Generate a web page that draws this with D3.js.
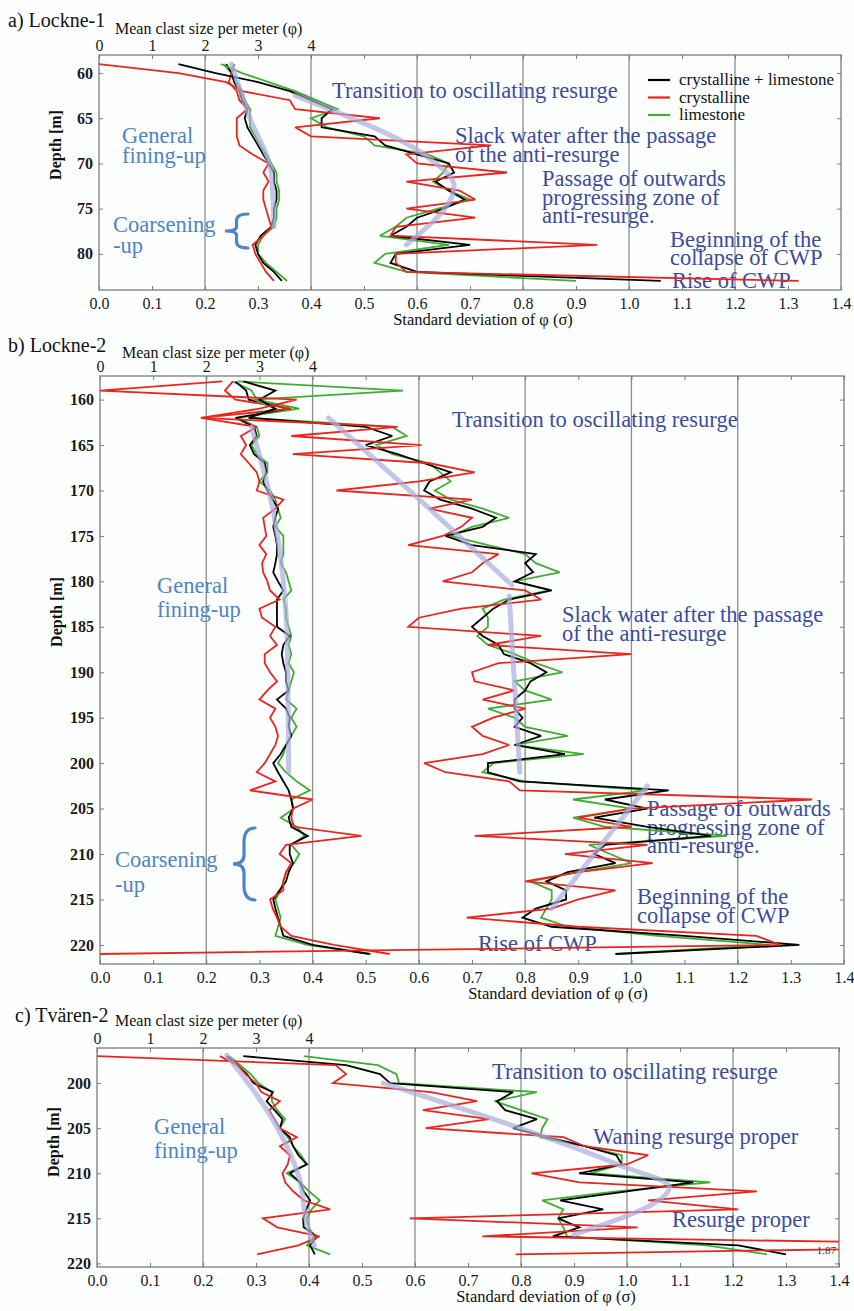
<!DOCTYPE html>
<html><head><meta charset="utf-8">
<script src="https://cdn.jsdelivr.net/npm/d3@7"></script>
<style>body{margin:0;background:#fff;}svg{display:block;}</style>
</head><body>
<svg id="chart" width="854" height="1311"></svg>
<script>
// ---------- Panel a) Lockne-1 ----------
const aDepth   = [59,60,61,62,63,64,65,66,67,68,69,70,71,72,73,74,75,76,77,78,79,80,81,82,83];
const aMeanAll = [2.4,2.5,2.55,2.65,2.7,2.8,2.75,2.8,2.9,3.0,3.1,3.2,3.3,3.3,3.35,3.35,3.3,3.3,3.25,3.05,2.95,3.0,3.1,3.3,3.45];
const aMeanCry = [2.55,2.5,2.45,2.6,2.65,2.8,2.6,2.6,2.6,2.65,2.9,3.2,3.1,3.2,3.1,3.1,3.15,3.2,3.25,3.1,2.9,2.95,3.05,3.15,3.3];
const aMeanLim = [2.35,2.5,2.6,2.7,2.75,2.85,2.85,2.85,2.95,3.05,3.15,3.25,3.35,3.35,3.4,3.4,3.35,3.35,3.3,3.1,3.0,3.0,3.15,3.35,3.55];
const aSdAll   = [0.15,0.22,0.30,0.36,0.40,0.44,0.42,0.42,0.52,0.54,0.60,0.66,0.67,0.635,0.66,0.69,0.65,0.60,0.58,0.55,0.70,0.56,0.55,0.60,1.06];
const aSdCry   = [0.0,0.15,0.24,0.27,0.36,0.37,0.53,0.37,0.40,0.74,0.58,0.60,0.77,0.58,0.68,0.71,0.58,0.71,0.56,0.55,0.94,0.56,0.56,0.58,1.32];
const aSdLim   = [0.23,0.27,0.32,0.37,0.41,0.45,0.40,0.43,0.50,0.52,0.62,0.66,0.65,0.63,0.66,0.70,0.64,0.58,0.56,0.53,0.66,0.54,0.52,0.58,0.90];
const aTrendMeanPhi = [2.5,2.85,3.25,3.3];
const aTrendMeanDepth = [59,65,71,77];
const aTrendSdVal = [0.37,0.62,0.67,0.58];
const aTrendSdDepth = [62.5,69.3,72.5,79];

// ---------- Panel b) Lockne-2 ----------
const bDepth   = [158,159,160,161,162,163,164,165,166,167,168,169,170,171,172,173,174,175,176,177,178,179,180,181,182,183,184,185,186,187,188,189,190,191,192,193,194,195,196,197,198,199,200,201,202,203,204,205,206,207,208,209,210,211,212,213,214,215,216,217,218,219,220,221];
const bMeanAll = [2.55,2.75,2.8,3.55,2.55,2.9,2.95,2.82,2.9,3.1,3.13,3.07,3.15,3.25,3.35,3.3,3.26,3.3,3.33,3.33,3.3,3.26,3.35,3.45,3.33,3.33,3.33,3.33,3.57,3.45,3.42,3.45,3.5,3.5,3.55,3.33,3.5,3.57,3.55,3.6,3.5,3.4,3.26,3.35,3.45,3.55,3.6,3.63,3.55,3.6,3.91,3.57,3.57,3.63,3.55,3.5,3.38,3.26,3.3,3.35,3.4,3.45,4.0,5.07];
const bMeanCry = [2.5,2.35,2.55,3.6,1.9,2.95,2.65,2.75,2.65,2.8,2.95,3.0,2.95,3.45,3.3,3.07,3.1,3.13,3.0,3.13,3.05,3.07,3.15,3.2,3.38,3.0,3.05,3.3,3.2,3.33,3.1,3.1,3.2,3.33,3.15,3.0,3.3,3.2,3.3,3.35,3.3,3.2,3.1,2.95,3.3,2.82,4.0,3.63,3.6,3.65,4.92,3.5,3.38,3.6,3.5,3.45,3.45,3.2,3.25,3.33,3.4,3.6,4.4,5.45];
const bMeanLim = [2.5,2.85,2.95,3.75,2.6,2.95,3.0,2.85,2.95,3.15,3.15,3.0,3.2,3.3,3.35,3.4,3.3,3.45,3.45,3.45,3.4,3.5,3.55,3.6,3.45,3.5,3.5,3.55,3.6,3.55,3.6,3.55,3.65,3.6,3.55,3.5,3.7,3.6,3.7,3.6,3.5,3.45,3.35,3.5,3.7,3.95,3.6,3.65,3.4,3.7,3.85,3.6,3.75,3.65,3.5,3.45,3.4,3.3,3.35,3.4,3.35,3.3,3.9,5.1];
const bSdAll   = [0.27,0.33,0.30,0.33,0.28,0.50,0.55,0.50,0.56,0.61,0.66,0.62,0.61,0.64,0.70,0.745,0.72,0.65,0.70,0.82,0.80,0.815,0.78,0.85,0.77,0.74,0.72,0.70,0.72,0.75,0.76,0.81,0.84,0.81,0.80,0.78,0.78,0.795,0.78,0.83,0.78,0.875,0.73,0.73,0.79,1.07,0.95,1.03,0.93,1.03,1.15,0.95,0.93,0.97,0.88,0.84,0.877,0.877,0.82,0.795,0.85,1.1,1.316,0.97];
const bSdCry   = [0.23,0.0,0.37,0.30,0.19,0.56,0.36,0.605,0.363,0.62,0.705,0.60,0.445,0.70,0.62,0.70,0.68,0.645,0.58,0.75,0.72,0.70,0.645,0.80,0.83,0.68,0.60,0.58,0.83,0.73,1.0,0.75,0.70,0.705,0.78,0.72,0.80,0.74,0.70,0.72,0.77,0.72,0.61,0.65,0.77,0.79,1.34,1.0,0.90,1.0,0.705,1.03,0.875,1.04,0.90,0.80,0.97,0.90,0.85,0.69,0.90,1.235,1.28,0.0];
const bSdLim   = [0.26,0.57,0.29,0.33,0.28,0.55,0.577,0.52,0.55,0.62,0.64,0.66,0.63,0.66,0.72,0.77,0.70,0.66,0.73,0.80,0.82,0.865,0.78,0.846,0.76,0.72,0.73,0.73,0.71,0.73,0.78,0.82,0.87,0.78,0.80,0.85,0.73,0.78,0.80,0.88,0.78,0.91,0.74,0.72,0.80,1.03,0.89,1.0,0.89,0.95,1.18,0.92,0.96,1.0,0.90,0.81,0.85,0.85,0.84,0.83,0.88,1.05,1.26,0.97];
const bTrendMeanPhi = [2.85,3.25,3.45,3.52,3.55];
const bTrendMeanDepth = [163,172,180,186,201];
const bTrendSd1Val = [0.43,0.62,0.775];
const bTrendSd1Depth = [162,172,180.4];
const bTrendSd2Val = [0.77,0.79];
const bTrendSd2Depth = [181.6,201];
const bTrendSd3Val = [1.03,0.85];
const bTrendSd3Depth = [202.5,216];

// ---------- Panel c) Tvären-2 ----------
const cDepth   = [197,198,199,200,201,202,203,204,205,206,207,208,209,210,211,212,213,214,215,216,217,218,219];
const cMeanAll = [2.45,2.65,2.83,2.95,3.32,3.2,3.35,3.5,3.45,3.64,3.7,3.8,3.96,3.64,3.83,3.9,4.02,3.95,3.89,3.9,4.15,4.02,4.11];
const cMeanCry = [2.32,2.65,2.8,3.0,3.1,3.45,3.25,3.35,3.45,3.77,3.45,3.64,3.6,3.5,3.55,3.7,3.9,4.4,3.13,3.4,4.2,3.8,3.02];
const cMeanLim = [2.5,2.7,2.9,3.05,3.3,3.3,3.4,3.55,3.45,3.6,3.7,3.85,3.96,3.58,3.83,4.0,4.2,4.05,3.96,4.0,4.1,3.96,4.4];
const cSdAll   = [0.276,0.47,0.534,0.553,0.785,0.755,0.77,0.83,0.785,0.85,0.92,0.98,0.99,0.91,1.125,1.0,0.874,0.955,0.87,0.91,0.86,1.21,1.30];
const cSdCry   = [0.0,0.45,0.47,0.445,0.63,0.717,0.615,0.74,0.62,0.88,0.92,1.04,1.0,0.82,0.91,1.245,1.04,1.21,0.59,1.02,0.727,1.87,0.79];
const cSdLim   = [0.39,0.53,0.565,0.57,0.83,0.75,0.80,0.85,0.84,0.836,0.92,0.99,0.99,0.93,1.157,0.98,0.84,0.88,0.87,0.88,0.887,1.15,1.264];
const cTrendMeanPhi = [2.45,3.4,3.83,3.96,4.1];
const cTrendMeanDepth = [196.9,204.9,210.8,215.6,218];
const cTrendSdVal = [0.54,0.99,1.08,0.90];
const cTrendSdDepth = [200,209.2,211.5,216.8];

// ---------- shared axis labels ----------
const sdTicks = [0,0.1,0.2,0.3,0.4,0.5,0.6,0.7,0.8,0.9,1.0,1.1,1.2,1.3,1.4];
const gridVals = [0.2,0.4,0.6,0.8,1.0,1.2];
const meanTicks = [0,1,2,3,4];
const seriesNames = ["crystalline + limestone","crystalline","limestone"];

const SERIF = "'Liberation Serif','Times New Roman',Times,serif";
const COLORS = {all:"#000000", cry:"#e8251f", lim:"#40ad32", trend:"#a9acdb"};
const BLUE_DARK = "#3c4b9e", BLUE_LIGHT = "#4d85c6";

const svg = d3.select("#chart");
svg.append("rect").attr("width",854).attr("height",1311).attr("fill","#fdfefe");

function zip(vals, depths){ return vals.map((v,i)=>[v,depths[i]]); }

function brace(g, x, y1, y2, w){
  const ym=(y1+y2)/2, h=y2-y1, xm=x-w*0.5;
  const p=`M${x},${y1} Q${xm},${y1} ${xm},${y1+h*0.2} L${xm},${ym-h*0.12} Q${xm},${ym} ${x-w},${ym} Q${xm},${ym} ${xm},${ym+h*0.12} L${xm},${y2-h*0.2} Q${xm},${y2} ${x},${y2}`;
  g.append("path").attr("d",p).attr("fill","none").attr("stroke",BLUE_LIGHT).attr("stroke-width",3.2).attr("stroke-linecap","round");
}

function drawPanel(p){
  const g = svg.append("g");
  const x = d3.scaleLinear().domain([0,1.4]).range([p.left,p.right]);
  const xm = d3.scaleLinear().domain([0,14]).range([p.left,p.right]);
  const y = d3.scaleLinear().domain(p.domain).range([p.top,p.bottom]);

  svg.append("clipPath").attr("id","clip"+p.id).append("rect")
    .attr("x",p.left).attr("y",p.top).attr("width",p.right-p.left).attr("height",p.bottom-p.top);

  g.selectAll(".grid").data(gridVals).join("line")
    .attr("x1",d=>x(d)).attr("x2",d=>x(d)).attr("y1",p.top).attr("y2",p.bottom)
    .attr("stroke","#8c8c8c").attr("stroke-width",1.3);
  g.append("rect").attr("x",p.left).attr("y",p.top).attr("width",p.right-p.left).attr("height",p.bottom-p.top)
    .attr("fill","none").attr("stroke","#7a7a7a").attr("stroke-width",1.3);

  const bx = g.append("g").attr("transform",`translate(0,${p.bottom})`)
    .call(d3.axisBottom(x).tickValues(sdTicks).tickFormat(d3.format(".1f")).tickSizeInner(-4).tickSizeOuter(0).tickPadding(8));
  bx.select(".domain").remove();
  bx.selectAll("line").attr("stroke","#7a7a7a");
  bx.selectAll("text").attr("font-family",SERIF).attr("font-size",16).attr("fill","#1a1a1a");
  const tx = g.append("g").attr("transform",`translate(0,${p.top})`)
    .call(d3.axisTop(x).tickValues(sdTicks).tickFormat("").tickSizeInner(-4).tickSizeOuter(0));
  tx.select(".domain").remove(); tx.selectAll("line").attr("stroke","#7a7a7a");
  const tm = g.append("g").attr("transform",`translate(0,${p.top})`)
    .call(d3.axisTop(xm).tickValues(meanTicks).tickFormat(d3.format("d")).tickSize(0).tickPadding(4));
  tm.select(".domain").remove();
  tm.selectAll("text").attr("font-family",SERIF).attr("font-size",16).attr("fill","#1a1a1a");
  const ly = g.append("g").attr("transform",`translate(${p.left},0)`)
    .call(d3.axisLeft(y).tickValues(p.yTicks).tickFormat(d3.format("d")).tickSizeInner(-4).tickSizeOuter(0).tickPadding(6));
  ly.select(".domain").remove(); ly.selectAll("line").attr("stroke","#7a7a7a");
  ly.selectAll("text").attr("font-family",SERIF).attr("font-size",16).attr("font-weight","bold").attr("fill","#1a1a1a");
  const ry = g.append("g").attr("transform",`translate(${p.right},0)`)
    .call(d3.axisRight(y).tickValues(p.yTicks).tickFormat("").tickSizeInner(-4).tickSizeOuter(0));
  ry.select(".domain").remove(); ry.selectAll("line").attr("stroke","#7a7a7a");

  g.append("text").attr("x",p.titleX).attr("y",p.titleY).text(p.title)
    .attr("font-family",SERIF).attr("font-size",20).attr("fill","#111");
  g.append("text").attr("x",p.meanLabelX).attr("y",p.meanLabelY).text("Mean clast size per meter (φ)")
    .attr("font-family",SERIF).attr("font-size",16).attr("fill","#111");
  g.append("text").attr("x",p.sdLabelX).attr("y",p.bottom+35).attr("text-anchor","middle").text("Standard deviation of φ (σ)")
    .attr("font-family",SERIF).attr("font-size",16.5).attr("fill","#111");
  g.append("text").attr("transform",`translate(${p.left-38},${p.depthLabelY}) rotate(-90)`).attr("text-anchor","middle")
    .text("Depth [m]").attr("font-family",SERIF).attr("font-size",16).attr("font-weight","bold").attr("fill","#111");

  p.notes.forEach(n=>{
    const t = g.append("text").attr("x",n.x).attr("y",n.y).attr("font-family",SERIF).attr("font-size",n.size||22.5)
      .attr("fill",n.color||BLUE_DARK);
    n.lines.forEach((l,i)=>t.append("tspan").attr("x",n.x).attr("dy",i===0?0:(n.lh||19)).text(l));
  });
  if(p.brace) brace(g,p.brace[0],p.brace[1],p.brace[2],p.brace[3]);

  const lg = g.append("g").attr("clip-path",`url(#clip${p.id})`);
  const lineSd = d3.line().x(d=>x(d[0])).y(d=>y(d[1]));
  const lineMean = d3.line().x(d=>xm(d[0])).y(d=>y(d[1]));
  const draw = (gen, vals, color, w)=> lg.append("path").attr("d",gen(zip(vals,p.depth)))
      .attr("fill","none").attr("stroke",color).attr("stroke-width",w||1.8).attr("stroke-linejoin","miter").attr("stroke-miterlimit",3);
  draw(lineMean,p.meanLim,COLORS.lim); draw(lineMean,p.meanAll,COLORS.all); draw(lineMean,p.meanCry,COLORS.cry);
  draw(lineSd,p.sdLim,COLORS.lim); draw(lineSd,p.sdAll,COLORS.all); draw(lineSd,p.sdCry,COLORS.cry);
  p.trendsMean.forEach(t=>lg.append("path").attr("d",d3.line().curve(d3.curveMonotoneY).x(d=>xm(d[0])).y(d=>y(d[1]))(zip(t[0],t[1])))
    .attr("fill","none").attr("stroke",COLORS.trend).attr("stroke-width",5).attr("stroke-opacity",0.7).attr("stroke-linecap","round"));
  p.trendsSd.forEach(t=>lg.append("path").attr("d",d3.line().x(d=>x(d[0])).y(d=>y(d[1])).curve(d3.curveMonotoneY)(zip(t[0],t[1])))
    .attr("fill","none").attr("stroke",COLORS.trend).attr("stroke-width",5).attr("stroke-opacity",0.7).attr("stroke-linecap","round"));

  if(p.extra) p.extra(g,x,y);
}

drawPanel({
  id:"a", left:99, right:841, top:55, bottom:290, domain:[58,84], yTicks:[60,65,70,75,80],
  depth:aDepth, meanAll:aMeanAll, meanCry:aMeanCry, meanLim:aMeanLim, sdAll:aSdAll, sdCry:aSdCry, sdLim:aSdLim,
  trendsMean:[[aTrendMeanPhi,aTrendMeanDepth]], trendsSd:[[aTrendSdVal,aTrendSdDepth]],
  title:"a) Lockne-1", titleX:8, titleY:27, meanLabelX:115, meanLabelY:34, sdLabelX:483, depthLabelY:145,
  notes:[
    {x:332,y:98,lines:["Transition to oscillating resurge"]},
    {x:455,y:143,lines:["Slack water after the passage","of the anti-resurge"]},
    {x:542,y:186,lines:["Passage of outwards","progressing zone of","anti-resurge."],lh:18.5},
    {x:670,y:247,lines:["Beginning of the","collapse of CWP"],lh:18},
    {x:672,y:288,lines:["Rise of CWP"]},
    {x:122,y:143,lines:["General","fining-up"],color:BLUE_LIGHT,lh:20},
    {x:113,y:232,lines:["Coarsening","-up"],color:BLUE_LIGHT,lh:21}
  ],
  brace:[248,214,248,23],
  extra:(g)=>{
    const lg = g.append("g");
    const rows=[[seriesNames[0],COLORS.all],[seriesNames[1],COLORS.cry],[seriesNames[2],COLORS.lim]];
    rows.forEach((r,i)=>{
      const yy=80+i*17.5;
      lg.append("line").attr("x1",648).attr("x2",670).attr("y1",yy).attr("y2",yy).attr("stroke",r[1]).attr("stroke-width",2.2);
      lg.append("text").attr("x",679).attr("y",yy+5).text(r[0]).attr("font-family",SERIF).attr("font-size",17).attr("fill","#111");
    });
  }
});

drawPanel({
  id:"b", left:100, right:844, top:376, bottom:964, domain:[157.4,222.1], yTicks:[160,165,170,175,180,185,190,195,200,205,210,215,220],
  depth:bDepth, meanAll:bMeanAll, meanCry:bMeanCry, meanLim:bMeanLim, sdAll:bSdAll, sdCry:bSdCry, sdLim:bSdLim,
  trendsMean:[[bTrendMeanPhi,bTrendMeanDepth]],
  trendsSd:[[bTrendSd1Val,bTrendSd1Depth],[bTrendSd2Val,bTrendSd2Depth],[bTrendSd3Val,bTrendSd3Depth]],
  title:"b) Lockne-2", titleX:8, titleY:352, meanLabelX:122, meanLabelY:358, sdLabelX:558, depthLabelY:612,
  notes:[
    {x:452,y:427,lines:["Transition to oscillating resurge"]},
    {x:562,y:622,lines:["Slack water after the passage","of the anti-resurge"]},
    {x:647,y:816,lines:["Passage of outwards","progressing zone of","anti-resurge."],lh:18.5},
    {x:637,y:904,lines:["Beginning of the","collapse of CWP"],lh:18.5},
    {x:478,y:951,lines:["Rise of CWP"]},
    {x:157,y:593,lines:["General","fining-up"],color:BLUE_LIGHT,lh:24},
    {x:115,y:867,lines:["Coarsening","-up"],color:BLUE_LIGHT,lh:25}
  ],
  brace:[255,828,900,22]
});

drawPanel({
  id:"c", left:97, right:839, top:1048, bottom:1267, domain:[196.1,220.4], yTicks:[200,205,210,215,220],
  depth:cDepth, meanAll:cMeanAll, meanCry:cMeanCry, meanLim:cMeanLim, sdAll:cSdAll, sdCry:cSdCry, sdLim:cSdLim,
  trendsMean:[[cTrendMeanPhi,cTrendMeanDepth]], trendsSd:[[cTrendSdVal,cTrendSdDepth]],
  title:"c) Tvären-2", titleX:15, titleY:1022, meanLabelX:115, meanLabelY:1026, sdLabelX:546, depthLabelY:1142,
  notes:[
    {x:492,y:1079,lines:["Transition to oscillating resurge"]},
    {x:593,y:1144,lines:["Waning resurge proper"]},
    {x:672,y:1227,lines:["Resurge proper"]},
    {x:154,y:1134,lines:["General","fining-up"],color:BLUE_LIGHT,lh:24}
  ],
  extra:(g)=>{
    g.append("text").attr("x",836).attr("y",1254).attr("text-anchor","end").text("1.87")
      .attr("font-family",SERIF).attr("font-size",11).attr("fill","#333");
  }
});
</script>
</body></html>
